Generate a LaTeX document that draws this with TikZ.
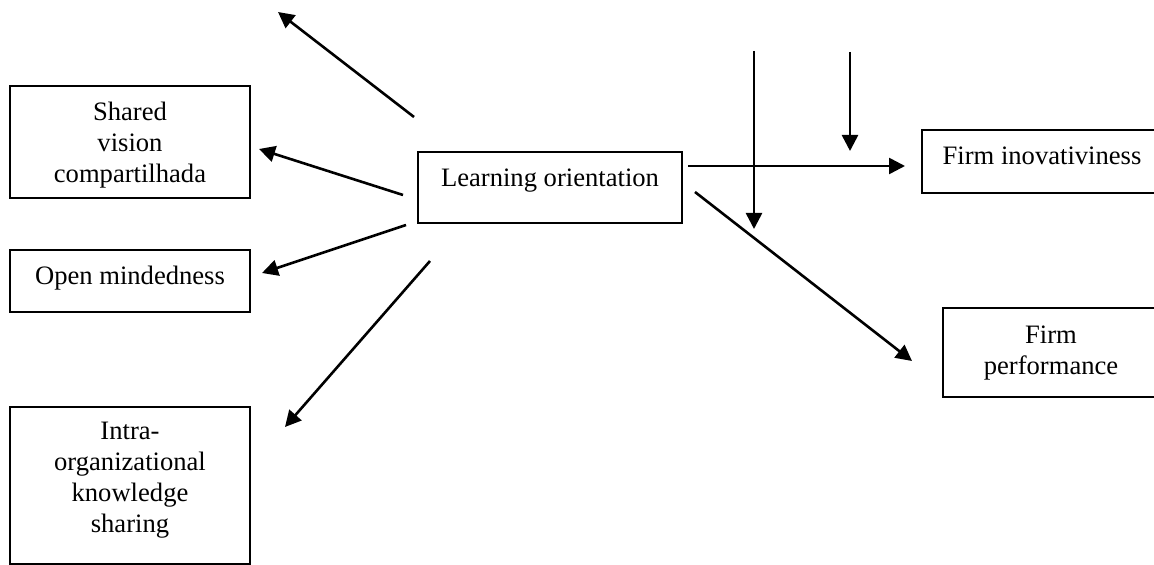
\documentclass[tikz,border=0pt]{standalone}
\usepackage{fontspec}
\setmainfont{Liberation Serif}
\usetikzlibrary{arrows.meta}

\begin{document}
\begin{tikzpicture}[x=0.5pt, y=-0.5pt,
    box/.style={draw, line width=1pt, inner sep=0pt},
    lbl/.style={anchor=base, align=center, inner sep=0pt,
                font=\fontsize{13.3pt}{15.5pt}\selectfont},
    arr/.style={line width=1.3pt, -{Triangle[length=8pt, width=8pt]}}]
      \clip (0,0) rectangle (1154,565);
      % boxes (centre / size)
      \node[box, minimum width=120pt, minimum height=56pt]   (sv) at (130,142)   {};
      \node[box, minimum width=120pt, minimum height=31pt]   (om) at (130,281)   {};
      \node[box, minimum width=120pt, minimum height=78.5pt] (ik) at (130,485.5) {};
      \node[box, minimum width=132pt, minimum height=35.5pt] (lo) at (550,187.5) {};
      \node[box, minimum width=120pt, minimum height=31.5pt] (fi) at (1042,161.5) {};
      \node[box, minimum width=108pt, minimum height=44.5pt] (fp) at (1051,352.5) {};
      % labels, placed on the baseline of their last line
      \node[lbl] (tsv) at (130,183) {Shared\\vision\\compartilhada};
      \node[lbl] (tom) at (130,285) {Open mindedness};
      \node[lbl] (tik) at (130,532) {Intra-\\organizational\\knowledge\\sharing};
      \node[lbl] (tlo) at (550,187) {Learning orientation};
      \node[lbl] (tfi) at (1042,165) {Firm inovativiness};
      \node[lbl] (tfp) at (1051,375) {Firm\\performance};
      % free ends of the arrows
      \coordinate (s1) at (414,117);  \coordinate (e1) at (278,12);
      \coordinate (s2) at (403,195);  \coordinate (e2) at (259,149);
      \coordinate (s3) at (406,225);  \coordinate (e3) at (262,273);
      \coordinate (s4) at (430,261);  \coordinate (e4) at (285,427);
      \coordinate (s5) at (688,166);  \coordinate (e5) at (905,166);
      \coordinate (s6) at (695,192);  \coordinate (e6) at (912,361);
      \coordinate (m1) at (754,51);   \coordinate (n1) at (754,229);
      \coordinate (m2) at (850,52);   \coordinate (n2) at (850,151);
      \foreach \a/\b in {s1/e1, s2/e2, s3/e3, s4/e4, s5/e5, s6/e6, m1/n1, m2/n2}
        \draw[arr] (\a) -- (\b);
    \end{tikzpicture}
\end{document}
